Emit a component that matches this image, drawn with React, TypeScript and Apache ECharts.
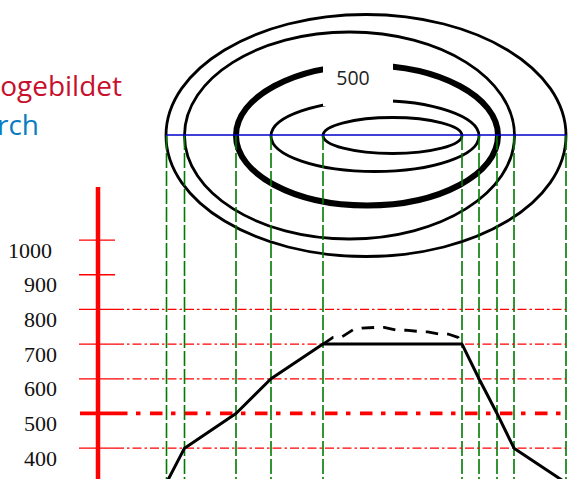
import React, { useEffect, useRef } from "react";
import * as echarts from "echarts";

const sectionX = [166.5, 184.5, 236, 271, 323, 462, 479, 497, 514, 566];
const sectionHeights = [300, 400, 500, 600, 700, 700, 600, 500, 400, 300];
const hillX = [323, 333, 342, 353.3, 361.7, 375, 384, 396.7, 405.7, 416.7, 427.7, 439, 448, 458, 462];
const hillHeights = [700, 719.5, 721, 742, 746, 748, 748, 740, 740, 737, 735, 729, 729, 719.5, 700];
const tickLabels = [400, 500, 600, 700, 800, 900, 1000];
const guideLevels = [400, 600, 700, 800];
const indexLevel = 500;
const axisLineX = [98, 98];
const axisLineV = [311, 1153];
// contour ellipses on the map: cx, cy, rx, ry, bold flag
const contours = [
  [366, 135.5, 200, 121, 0],
  [349.5, 135.5, 165, 103.5, 0],
  [367, 135.5, 131, 70, 1],
  [375, 136, 104, 35.5, 0],
  [392.5, 135.5, 69.5, 18, 0],
];
const labelGap = [[323, 60, 70, 46]];
const sectionLine = [166, 566];
const sectionLineY = 135;
const greenBottom = 479;

export default function App() {
  const ref = useRef<HTMLDivElement>(null);
  useEffect(() => {
    document.body.style.margin = "0";
    const chart = echarts.init(ref.current!, undefined, { renderer: "svg" });
    const red = "#ff0000";
    const lineS = (name: string, data: number[][], color: string, width: number, type: any, xi = 0, z = 2) => ({
      type: "line", name, data, xAxisIndex: xi, yAxisIndex: xi, symbol: "none", silent: true, z,
      lineStyle: { color, width, type, cap: "butt", join: "round" },
    });
    const series: any[] = [];
    // contours
    series.push({
      type: "custom", xAxisIndex: 1, yAxisIndex: 1, data: contours, z: 2, silent: true, clip: false,
      renderItem: (_p: any, api: any) => {
        const c = api.coord([api.value(0), api.value(1)]);
        const s = api.size([api.value(2), api.value(3)]);
        return {
          type: "ellipse",
          shape: { cx: c[0], cy: c[1], rx: s[0], ry: s[1] },
          style: { fill: "none", stroke: "#000", lineWidth: api.value(4) ? 6 : 2.8 },
        };
      },
    });
    series.push({
      type: "custom", xAxisIndex: 1, yAxisIndex: 1, data: labelGap, z: 3, silent: true, clip: false,
      renderItem: (_p: any, api: any) => {
        const c = api.coord([api.value(0), api.value(1)]);
        const s = api.size([api.value(2), api.value(3)]);
        return { type: "rect", shape: { x: c[0], y: c[1], width: s[0], height: s[1] }, style: { fill: "#fff" } };
      },
    });
    // green projection lines
    sectionX.forEach((x, i) => {
      series.push(lineS("g" + i, [[x, sectionLineY], [x, greenBottom]], "#007a00", 1.6, [15, 3], 1, 4));
    });
    // blue section
    series.push(lineS("section", sectionLine.map((x) => [x, sectionLineY]), "#0000cc", 1.4, "solid", 1, 5));
    // axis
    series.push(lineS("axis", axisLineX.map((x, i) => [x, axisLineV[i]]), red, 4.5, "solid", 0, 5));
    tickLabels.forEach((v) => {
      const bold = v === indexLevel;
      series.push(lineS("t" + v, [[bold ? 80 : 79, v], [115, v]], red, bold ? 3.8 : 1.3, "solid", 0, 5));
    });
    guideLevels.forEach((v) => {
      series.push(lineS("h" + v, [[115, v], [566, v]], red, 1.2, [9, 3, 2.5, 3], 0, 5));
    });
    series.push(lineS("h500", [[115, indexLevel], [566, indexLevel]], red, 3.8, [12.5, 8.5, 4.5, 9.5], 0, 5));
    // profile
    series.push(lineS("profile", sectionX.map((x, i) => [x, sectionHeights[i]]), "#000", 3, "solid", 0, 6));
    series.push(lineS("hill", hillX.map((x, i) => [x, hillHeights[i]]), "#000", 2.8, [12.5, 9], 0, 6));

    chart.setOption({
      animation: false,
      backgroundColor: "#fff",
      grid: [
        { left: 0, width: 572, top: 187, height: 292 },
        { left: 0, width: 572, top: 0, height: 479 },
      ],
      xAxis: [
        { type: "value", gridIndex: 0, min: 0, max: 572, show: false },
        { type: "value", gridIndex: 1, min: 0, max: 572, show: false },
      ],
      yAxis: [
        {
          type: "value", gridIndex: 0, min: 311, max: 1153, position: "left", offset: -57,
          axisLine: { show: false }, axisTick: { show: false }, splitLine: { show: false },
          axisLabel: {
            customValues: tickLabels, color: "#111", fontFamily: "Liberation Serif", fontSize: 22,
            margin: 0, verticalAlign: "top", lineHeight: 20, align: "right",
            formatter: (v: number) => (v === 1000 ? "{w|1000}" : String(v)),
            rich: {
              w: { color: "#111", fontFamily: "Liberation Serif", fontSize: 22, lineHeight: 20, padding: [0, 5, 0, 0] },
            },
          },
        },
        { type: "value", gridIndex: 1, min: 0, max: 479, inverse: true, show: false },
      ],
      graphic: [
        { type: "text", x: 122, y: 85, z: 10, style: { text: "ogebildet", align: "right", verticalAlign: "middle", fill: "#c8102e", font: "28px 'Open Sans'" } },
        { type: "text", x: 39, y: 124, z: 10, style: { text: "rch", align: "right", verticalAlign: "middle", fill: "#0a7cc1", font: "28px 'Open Sans'" } },
        { type: "text", x: 353, y: 77, z: 10, style: { text: "500", align: "center", verticalAlign: "middle", fill: "#222", font: "19.5px 'Open Sans'" } },
      ],
      series,
    });
    return () => chart.dispose();
  }, []);
  return <div ref={ref} style={{ position: "absolute", left: 0, top: 0, width: 572, height: 479 }} />;
}
